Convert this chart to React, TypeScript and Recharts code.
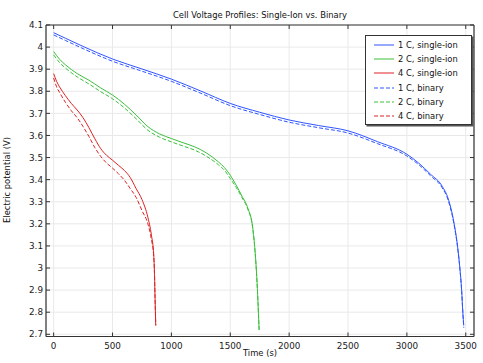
import React from 'react';
import { LineChart, Line, XAxis, YAxis, CartesianGrid } from 'recharts';

// ---- data ----
const xTicks = [0, 500, 1000, 1500, 2000, 2500, 3000, 3500];
const yTicks = [2.7, 2.8, 2.9, 3, 3.1, 3.2, 3.3, 3.4, 3.5, 3.6, 3.7, 3.8, 3.9, 4, 4.1];

const t1C = [0, 100, 250, 500, 750, 1000, 1250, 1500, 1750, 2000, 2250, 2500, 2750, 3000, 3100, 3200, 3300, 3350, 3400, 3430, 3450, 3465, 3475, 3483];
const v1CSingle = [4.065, 4.04, 4.003, 3.946, 3.901, 3.855, 3.801, 3.745, 3.705, 3.67, 3.645, 3.621, 3.572, 3.515, 3.475, 3.425, 3.37, 3.315, 3.205, 3.1, 3.0, 2.9, 2.8, 2.74];
const v1CBinary = [4.055, 4.03, 3.993, 3.936, 3.891, 3.845, 3.791, 3.735, 3.695, 3.66, 3.635, 3.611, 3.563, 3.507, 3.468, 3.418, 3.363, 3.308, 3.198, 3.096, 2.997, 2.898, 2.8, 2.73];

const t2C = [0, 50, 100, 200, 300, 400, 500, 600, 700, 800, 900, 1000, 1100, 1200, 1300, 1400, 1450, 1500, 1550, 1600, 1650, 1690, 1710, 1725, 1735, 1745];
const v2CSingle = [3.98, 3.945, 3.92, 3.88, 3.85, 3.815, 3.783, 3.742, 3.693, 3.64, 3.607, 3.586, 3.567, 3.548, 3.52, 3.48, 3.455, 3.42, 3.375, 3.325, 3.27, 3.185, 3.08, 2.96, 2.85, 2.72];
const v2CBinary = [3.965, 3.93, 3.905, 3.865, 3.833, 3.798, 3.766, 3.725, 3.676, 3.624, 3.592, 3.571, 3.552, 3.533, 3.505, 3.467, 3.443, 3.405, 3.365, 3.318, 3.265, 3.183, 3.078, 2.958, 2.85, 2.72];

const t4C = [0, 25, 50, 100, 150, 200, 250, 300, 350, 400, 450, 500, 550, 600, 650, 700, 750, 800, 830, 850, 855, 861, 867];
const v4CSingle = [3.88, 3.845, 3.82, 3.78, 3.745, 3.715, 3.68, 3.635, 3.585, 3.54, 3.51, 3.488, 3.465, 3.442, 3.41, 3.36, 3.31, 3.23, 3.15, 3.06, 3.0, 2.87, 2.74];
const v4CBinary = [3.86, 3.82, 3.795, 3.75, 3.712, 3.68, 3.64, 3.595, 3.545, 3.505, 3.475, 3.452, 3.427, 3.398, 3.36, 3.32, 3.26, 3.2, 3.13, 3.05, 3.0, 2.87, 2.74];

const toPoints = (t: number[], v: number[]) => t.map((x, i) => ({ t: x, v: v[i] }));

const series = [
  { name: '1 C, single-ion', color: '#2f55ff', dashed: false, data: toPoints(t1C, v1CSingle) },
  { name: '2 C, single-ion', color: '#3cbf3c', dashed: false, data: toPoints(t2C, v2CSingle) },
  { name: '4 C, single-ion', color: '#dd2222', dashed: false, data: toPoints(t4C, v4CSingle) },
  { name: '1 C, binary', color: '#2f55ff', dashed: true, data: toPoints(t1C, v1CBinary) },
  { name: '2 C, binary', color: '#3cbf3c', dashed: true, data: toPoints(t2C, v2CBinary) },
  { name: '4 C, binary', color: '#dd2222', dashed: true, data: toPoints(t4C, v4CBinary) },
];

const FONT = '"DejaVu Sans", sans-serif';
const AXIS_COLOR = '#333';
const TICK_LEN = 4;

const BottomTick = (props: any) => {
  const { x, y, payload } = props;
  return (
    <g>
      <line x1={x} y1={y} x2={x} y2={y - TICK_LEN} stroke={AXIS_COLOR} strokeWidth={1} />
      <text x={x} y={y + 12} textAnchor="middle" fontSize={8.8} fontFamily={FONT} fill="#222">
        {payload.value}
      </text>
    </g>
  );
};

const LeftTick = (props: any) => {
  const { x, y, payload } = props;
  return (
    <g>
      <line x1={x} y1={y} x2={x + TICK_LEN} y2={y} stroke={AXIS_COLOR} strokeWidth={1} />
      <text x={x - 3} y={y + 3.2} textAnchor="end" fontSize={8.8} fontFamily={FONT} fill="#222">
        {String(payload.value)}
      </text>
    </g>
  );
};

const TopTick = (props: any) => {
  const { x, y } = props;
  return <line x1={x} y1={y} x2={x} y2={y + TICK_LEN} stroke={AXIS_COLOR} strokeWidth={1} />;
};

const RightTick = (props: any) => {
  const { x, y } = props;
  return <line x1={x} y1={y} x2={x - TICK_LEN} y2={y} stroke={AXIS_COLOR} strokeWidth={1} />;
};

export default function App() {
  return (
    <div style={{ position: 'absolute', left: 0, top: 0, width: 483, height: 363, background: '#fff', fontFamily: FONT }}>
      <LineChart width={483} height={363} margin={{ top: 24, right: 8, bottom: 0, left: 0 }}>
        <CartesianGrid stroke="#e9e9e9" strokeWidth={1} />
        <XAxis
          type="number"
          dataKey="t"
          domain={[-65, 3570]}
          ticks={xTicks}
          allowDataOverflow
          height={26.5}
          tickSize={0}
          tickMargin={0}
          tickLine={false}
          tick={<BottomTick />}
          axisLine={{ stroke: AXIS_COLOR, strokeWidth: 1.2 }}
          interval={0}
        />
        <XAxis
          xAxisId="top"
          orientation="top"
          type="number"
          dataKey="t"
          domain={[-65, 3570]}
          ticks={xTicks}
          allowDataOverflow
          height={1}
          tickSize={0}
          tickMargin={0}
          tickLine={false}
          tick={<TopTick />}
          axisLine={{ stroke: AXIS_COLOR, strokeWidth: 1.2 }}
          interval={0}
        />
        <YAxis
          type="number"
          domain={[2.69, 4.1]}
          ticks={yTicks}
          allowDataOverflow
          width={46}
          tickSize={0}
          tickMargin={0}
          tickLine={false}
          tick={<LeftTick />}
          axisLine={{ stroke: AXIS_COLOR, strokeWidth: 1.2 }}
          interval={0}
        />
        <YAxis
          yAxisId="right"
          orientation="right"
          type="number"
          domain={[2.69, 4.1]}
          ticks={yTicks}
          allowDataOverflow
          width={1}
          tickSize={0}
          tickMargin={0}
          tickLine={false}
          tick={<RightTick />}
          axisLine={{ stroke: AXIS_COLOR, strokeWidth: 1.2 }}
          interval={0}
        />
        {series.map((s) => (
          <Line
            key={s.name}
            data={s.data}
            dataKey="v"
            name={s.name}
            type="monotone"
            stroke={s.color}
            strokeWidth={1}
            strokeDasharray={s.dashed ? '4 2' : undefined}
            dot={false}
            activeDot={false}
            isAnimationActive={false}
          />
        ))}
      </LineChart>

      {/* title */}
      <div style={{ position: 'absolute', left: 60, width: 400, top: 9, textAlign: 'center', fontSize: 8.4, color: '#111', lineHeight: '12px' }}>
        Cell Voltage Profiles: Single-Ion vs. Binary
      </div>
      {/* x label */}
      <div style={{ position: 'absolute', left: 160, width: 200, top: 347, textAlign: 'center', fontSize: 8.4, color: '#111', lineHeight: '12px' }}>
        Time (s)
      </div>
      {/* y label */}
      <div
        style={{
          position: 'absolute',
          left: 7 - 100,
          top: 180 - 6,
          width: 200,
          textAlign: 'center',
          fontSize: 8.4,
          color: '#111',
          lineHeight: '12px',
          transform: 'rotate(-90deg)',
          transformOrigin: '100px 6px',
        }}
      >
        Electric potential (V)
      </div>

      {/* legend */}
      <div
        style={{
          position: 'absolute',
          left: 365,
          top: 35,
          width: 105,
          height: 88,
          background: '#fff',
          border: '1px solid #333',
          boxShadow: '1.5px 1.5px 0 #555',
        }}
      >
        {series.map((s, i) => (
          <div key={s.name} style={{ position: 'absolute', left: 0, top: 2 + i * 14.2, height: 14, width: 105 }}>
            <svg width={22} height={14} style={{ position: 'absolute', left: 7, top: 0 }}>
              <line x1={1} y1={7} x2={21} y2={7} stroke={s.color} strokeWidth={1} strokeDasharray={s.dashed ? '4 2' : undefined} />
            </svg>
            <div style={{ position: 'absolute', left: 32, top: 1, fontSize: 8.4, lineHeight: '12px', color: '#111', whiteSpace: 'nowrap' }}>
              {s.name}
            </div>
          </div>
        ))}
      </div>
    </div>
  );
}
